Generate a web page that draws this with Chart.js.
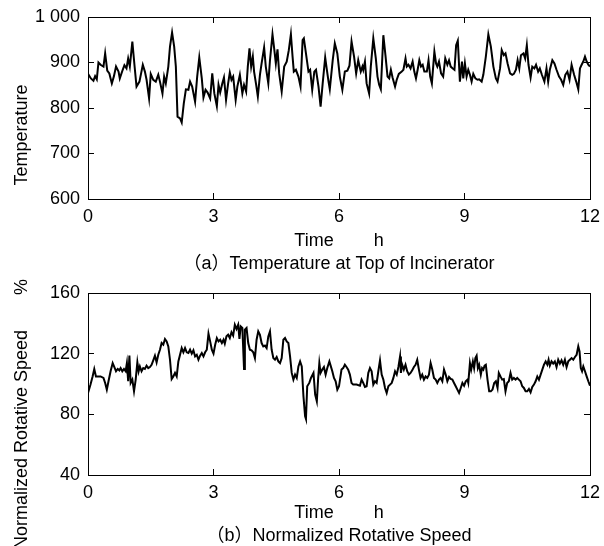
<!DOCTYPE html>
<html>
<head>
<meta charset="utf-8">
<title>Incinerator</title>
<script src="https://cdn.jsdelivr.net/npm/chart.js@4.4.1/dist/chart.umd.min.js"></script>
<style>
  body { margin: 0; width: 604px; height: 546px; background: #fff; position: relative; overflow: hidden;
         font-family: "Liberation Sans", Arial, "Noto Sans CJK SC", sans-serif; }
  .panel { position: absolute; left: 0; width: 604px; }
  #panelA { top: 0; height: 276px; }
  #panelB { top: 276px; height: 272px; }
  .ytitle { position: absolute; font-size: 18px; color: #000; white-space: pre; line-height: 1;
            transform: translate(-50%, -50%) rotate(-90deg); }
</style>
</head>
<body>
<div class="panel" id="panelA"><canvas id="tempChart" width="604" height="276"></canvas></div>
<div class="panel" id="panelB"><canvas id="speedChart" width="604" height="272"></canvas></div>
<div class="ytitle" style="left:21px; top:135px;">Temperature</div>
<div class="ytitle" style="left:21px; top:414px;">Normalized Rotative Speed       %</div>
<script>
// (a) temperature at top of incinerator
var tempTime = [
  0, 0.07, 0.13, 0.17, 0.21, 0.25, 0.30, 0.37, 0.41, 0.46,
  0.51, 0.57, 0.62, 0.67, 0.73, 0.76, 0.83, 0.87, 0.92, 0.96,
  1.00, 1.06, 1.11, 1.16, 1.23, 1.31, 1.36, 1.40, 1.46, 1.50,
  1.56, 1.62, 1.68, 1.72, 1.78, 1.82, 1.86, 1.92, 1.96, 2.01,
  2.06, 2.10, 2.14, 2.20, 2.24, 2.29, 2.34, 2.40, 2.44, 2.49,
  2.56, 2.61, 2.66, 2.72, 2.76, 2.81, 2.86, 2.92, 2.97, 3.02,
  3.08, 3.12, 3.16, 3.21, 3.25, 3.30, 3.35, 3.39, 3.43, 3.47,
  3.53, 3.57, 3.63, 3.69, 3.73, 3.78, 3.82, 3.86, 3.90, 3.94,
  3.97, 4.02, 4.06, 4.11, 4.15, 4.21, 4.25, 4.31, 4.35, 4.41,
  4.45, 4.49, 4.53, 4.57, 4.63, 4.69, 4.75, 4.80, 4.85, 4.89,
  4.92, 4.97, 5.03, 5.08, 5.13, 5.16, 5.21, 5.27, 5.31, 5.36,
  5.41, 5.45, 5.51, 5.56, 5.61, 5.67, 5.71, 5.75, 5.78, 5.85,
  5.90, 5.96, 6.02, 6.08, 6.14, 6.20, 6.25, 6.30, 6.36, 6.41,
  6.46, 6.52, 6.56, 6.58, 6.62, 6.66, 6.72, 6.76, 6.82, 6.88,
  6.92, 6.96, 7.00, 7.06, 7.11, 7.16, 7.20, 7.24, 7.28, 7.34,
  7.38, 7.43, 7.50, 7.54, 7.59, 7.62, 7.66, 7.71, 7.76, 7.80,
  7.84, 7.88, 7.92, 7.96, 8.00, 8.04, 8.10, 8.14, 8.18, 8.22,
  8.28, 8.32, 8.35, 8.39, 8.44, 8.49, 8.54, 8.59, 8.63, 8.67,
  8.72, 8.76, 8.80, 8.84, 8.89, 8.94, 8.97, 9.01, 9.05, 9.09,
  9.13, 9.17, 9.21, 9.26, 9.31, 9.35, 9.41, 9.45, 9.51, 9.57,
  9.63, 9.69, 9.75, 9.79, 9.85, 9.89, 9.94, 9.98, 10.03, 10.09,
  10.14, 10.18, 10.23, 10.27, 10.31, 10.35, 10.41, 10.45, 10.49, 10.53,
  10.58, 10.62, 10.67, 10.71, 10.76, 10.80, 10.85, 10.91, 10.96, 11.00,
  11.04, 11.10, 11.15, 11.20, 11.26, 11.31, 11.36, 11.41, 11.46, 11.51,
  11.56, 11.62, 11.67, 11.72, 11.76, 11.80, 11.84, 11.88, 11.92, 11.96,
  12.00
];
var tempValue = [
  875, 865, 860, 870, 863, 900, 895, 891, 920, 882,
  876, 854, 870, 891, 880, 865, 884, 894, 887, 909,
  891, 946, 895, 847, 858, 895, 880, 862, 821, 875,
  862, 858, 873, 858, 832, 869, 854, 891, 935, 966,
  935, 891, 781, 777, 768, 810, 841, 840, 858, 847,
  814, 869, 911, 865, 823, 840, 834, 821, 876, 832,
  804, 851, 834, 854, 867, 818, 854, 878, 862, 869,
  818, 847, 873, 832, 851, 836, 891, 931, 891, 913,
  880, 851, 825, 873, 898, 933, 891, 854, 905, 962,
  931, 898, 929, 876, 836, 891, 902, 927, 962, 913,
  880, 884, 869, 847, 949, 953, 920, 880, 884, 840,
  880, 884, 847, 803, 854, 911, 884, 858, 841, 905,
  942, 920, 869, 840, 880, 882, 893, 946, 913, 876,
  905, 880, 891, 884, 902, 854, 832, 891, 953, 909,
  869, 851, 841, 960, 916, 869, 865, 884, 867, 847,
  862, 875, 880, 884, 909, 891, 895, 887, 902, 880,
  865, 884, 905, 891, 895, 880, 880, 905, 869, 854,
  924, 898, 891, 902, 876, 869, 909, 895, 905, 891,
  887, 884, 938, 948, 858, 902, 865, 898, 869, 884,
  873, 858, 875, 865, 862, 863, 858, 873, 913, 962,
  935, 891, 865, 858, 887, 927, 916, 920, 898, 876,
  873, 875, 884, 905, 887, 916, 920, 909, 938, 895,
  867, 891, 887, 895, 880, 887, 873, 858, 887, 858,
  884, 905, 898, 884, 869, 862, 851, 873, 880, 862,
  895, 873, 858, 841, 887, 895, 902, 913, 902, 895,
  891
];

// (b) normalized rotative speed, %
var speedTime = [
  0, 0.06, 0.11, 0.15, 0.19, 0.25, 0.30, 0.37, 0.41, 0.45,
  0.49, 0.54, 0.59, 0.63, 0.67, 0.71, 0.75, 0.78, 0.82, 0.86,
  0.90, 0.93, 0.96, 0.99, 1.02, 1.06, 1.10, 1.14, 1.18, 1.21,
  1.24, 1.28, 1.32, 1.36, 1.40, 1.44, 1.48, 1.52, 1.56, 1.60,
  1.64, 1.68, 1.72, 1.76, 1.80, 1.84, 1.88, 1.92, 1.96, 2.00,
  2.04, 2.08, 2.12, 2.16, 2.20, 2.24, 2.28, 2.32, 2.36, 2.40,
  2.44, 2.48, 2.52, 2.56, 2.60, 2.64, 2.68, 2.72, 2.76, 2.80,
  2.84, 2.88, 2.92, 2.96, 3.00, 3.04, 3.08, 3.12, 3.16, 3.20,
  3.24, 3.27, 3.31, 3.35, 3.39, 3.43, 3.47, 3.51, 3.55, 3.59,
  3.62, 3.65, 3.69, 3.73, 3.75, 3.79, 3.83, 3.87, 3.91, 3.95,
  3.99, 4.03, 4.07, 4.11, 4.15, 4.19, 4.23, 4.27, 4.31, 4.35,
  4.39, 4.43, 4.47, 4.51, 4.55, 4.59, 4.63, 4.67, 4.71, 4.75,
  4.79, 4.83, 4.87, 4.91, 4.95, 4.99, 5.03, 5.07, 5.11, 5.15,
  5.19, 5.21, 5.24, 5.29, 5.33, 5.39, 5.43, 5.47, 5.50, 5.53,
  5.56, 5.60, 5.64, 5.68, 5.72, 5.77, 5.80, 5.84, 5.88, 5.92,
  5.96, 6.00, 6.06, 6.10, 6.14, 6.18, 6.22, 6.26, 6.30, 6.34,
  6.42, 6.50, 6.54, 6.58, 6.62, 6.66, 6.70, 6.74, 6.78, 6.82,
  6.86, 6.90, 6.94, 6.98, 7.02, 7.06, 7.10, 7.14, 7.18, 7.22,
  7.26, 7.30, 7.34, 7.38, 7.42, 7.46, 7.48, 7.51, 7.55, 7.59,
  7.63, 7.67, 7.71, 7.75, 7.79, 7.83, 7.87, 7.91, 7.95, 7.99,
  8.03, 8.07, 8.11, 8.15, 8.19, 8.23, 8.27, 8.31, 8.35, 8.39,
  8.43, 8.47, 8.51, 8.55, 8.59, 8.63, 8.67, 8.71, 8.75, 8.79,
  8.83, 8.87, 8.91, 8.95, 8.99, 9.03, 9.07, 9.09, 9.13, 9.16,
  9.20, 9.23, 9.26, 9.29, 9.32, 9.35, 9.39, 9.42, 9.45, 9.48,
  9.51, 9.55, 9.59, 9.63, 9.67, 9.71, 9.75, 9.79, 9.82, 9.86,
  9.90, 9.94, 9.98, 10.02, 10.06, 10.10, 10.14, 10.18, 10.22, 10.26,
  10.30, 10.34, 10.38, 10.42, 10.46, 10.50, 10.54, 10.58, 10.62, 10.66,
  10.70, 10.74, 10.78, 10.82, 10.86, 10.90, 10.94, 10.98, 11.01, 11.04,
  11.08, 11.12, 11.16, 11.20, 11.24, 11.28, 11.32, 11.36, 11.40, 11.44,
  11.48, 11.52, 11.56, 11.60, 11.64, 11.68, 11.72, 11.75, 11.78, 11.81,
  11.84, 11.88, 11.92, 11.96, 12.00
];
var speedValue = [
  94.1, 99.6, 105, 109.9, 105, 105, 105, 104, 100.7, 96.3,
  101.8, 108.4, 113.8, 111.2, 108.4, 109.9, 109, 110.5, 108.4, 109.9,
  108.4, 113.8, 101.8, 118.7, 100.7, 102.9, 95.2, 102.9, 114.3, 108.4,
  111.6, 108.4, 110.5, 109.9, 112.1, 110.5, 111.2, 112.7, 115.6, 118.7,
  114.3, 119.3, 122.6, 127, 125.9, 129.7, 128.1, 124.8, 116, 103.3,
  105, 107.3, 105, 114.9, 119.3, 123.7, 120.9, 123.7, 120.9, 120.4,
  122.6, 120, 122.2, 118.2, 119.3, 116, 118.7, 120.4, 118.2, 120.9,
  122.6, 133.2, 128.1, 122.6, 120, 125.9, 130.3, 128.1, 129.2, 127,
  129.2, 126.6, 131.4, 132.5, 130.3, 134.1, 131.9, 139.1, 136.3, 139.1,
  129.7, 138, 136.9, 109.9, 135.8, 136.9, 127, 122.6, 122.2, 120.9,
  117.1, 129.2, 134.7, 132.5, 127, 124.8, 125.3, 123.7, 131.4, 134.7,
  122.6, 117.1, 116, 117.8, 114.9, 113.8, 117.1, 129.2, 130.3, 128.1,
  127, 118.2, 107.3, 102.9, 106.2, 104, 111.6, 114.9, 111.6, 91.9,
  78.7, 77, 98.5, 100.7, 104, 107.3, 93, 88.6, 102.9, 113.8,
  107.3, 109.5, 111.2, 106.2, 110.5, 114.9, 112.1, 108.4, 104, 101.8,
  96.3, 98.5, 109.5, 110.5, 112.7, 111.2, 109.5, 106.2, 100.7, 99.6,
  99.6, 98.9, 102.9, 100.7, 98, 98.5, 107.3, 110.5, 108.4, 99.6,
  101.8, 100.7, 108.4, 115.6, 106.2, 102.9, 97.4, 94.1, 98.5, 99.6,
  100.7, 104, 108.4, 106.2, 111.2, 118.2, 107.3, 112.7, 109.5, 112.7,
  108.4, 106.2, 107.3, 109, 111.2, 112.7, 116, 109.5, 104, 106.2,
  102.9, 105, 104, 106.2, 113.8, 109.5, 104, 102.9, 100.7, 102.9,
  104, 101.8, 109.5, 106.2, 101.8, 104.6, 103.3, 102.9, 100.7, 98.5,
  96.3, 94.1, 97.4, 100.7, 98.9, 101.8, 102.9, 100.7, 113.8, 109.5,
  114.9, 110.5, 117.1, 118.7, 110.5, 112.7, 106.2, 110.5, 109.5, 112.1,
  112.7, 102.9, 95.2, 95.2, 96.3, 100.7, 101.8, 97.4, 107.3, 105,
  102.9, 103.3, 95.2, 100.7, 101.8, 107.3, 102.9, 104, 102.9, 104,
  102.9, 101.8, 98.5, 97.4, 95.2, 95.2, 96.7, 94.5, 98, 99.6,
  101.8, 105, 102.9, 106.2, 109.5, 112.7, 114.9, 112.7, 116, 112.1,
  114.9, 113.4, 114.9, 111.2, 116, 113.4, 115.6, 112.7, 116, 111.2,
  114.9, 116, 117.1, 116, 117.8, 119.3, 124.8, 121.5, 110.5, 108.4,
  111.6, 108.4, 105, 101.8, 98.9
];

var timeTicks = [0, 3, 6, 9, 12];
var tempTicks = [600, 700, 800, 900, 1000];
var speedTicks = [40, 80, 120, 160];

var FONT = '"Liberation Sans", Arial, "Noto Sans CJK SC", sans-serif';

// 1000 -> "1 000"
function spaced(v) {
    return String(v).replace(/\B(?=(\d{3})+(?!\d))/g, ' ');
}

// mirrored axis on top / right: tick marks only, no labels
function boxAxis(pos, ticks) {
    return {
        type: 'linear', position: pos,
        min: ticks[0], max: ticks[ticks.length - 1],
        ticks: { display: false, stepSize: ticks[1] - ticks[0] },
        grid: { drawOnChartArea: false, tickLength: -6, color: '#000' },
        border: { color: '#000', width: 1 },
        afterFit: function(s) {
            if (pos === 'top') s.height = 0; else s.width = 0;
        }
    };
}

function makeChart(id, times, values, yTicks, xAxisH, caption) {
    var pts = times.map(function(t, i) { return { x: t, y: values[i] }; });
    return new Chart(document.getElementById(id).getContext('2d'), {
        type: 'line',
        data: {
            datasets: [{
                data: pts,
                borderColor: '#000',
                borderWidth: 2,
                pointRadius: 0,
                tension: 0,
                fill: false
            }]
        },
        options: {
            responsive: false,
            animation: false,
            layout: { padding: { top: 17, right: 14, left: 0, bottom: 0 } },
            plugins: {
                legend: { display: false },
                tooltip: { enabled: false }
            },
            scales: {
                x: {
                    type: 'linear', position: 'bottom',
                    min: timeTicks[0], max: timeTicks[timeTicks.length - 1],
                    ticks: { stepSize: 3, color: '#000', padding: 13, maxRotation: 0,
                             font: { family: FONT, size: 18 } },
                    grid: { drawOnChartArea: false, tickLength: -6, color: '#000' },
                    border: { color: '#000', width: 1 },
                    // axis name, then the panel caption centred under the plot
                    title: { display: true, text: ['Time        h', caption], color: '#000', padding: 0,
                             font: { family: FONT, size: 18, lineHeight: 23 / 18 } },
                    afterFit: function(s) {
                        s.height = xAxisH;
                        s.paddingLeft = 0;
                        s.paddingRight = 0;
                    }
                },
                x2: boxAxis('top', timeTicks),
                y: {
                    type: 'linear', position: 'left',
                    min: yTicks[0], max: yTicks[yTicks.length - 1],
                    ticks: { stepSize: yTicks[1] - yTicks[0], color: '#000', padding: 14,
                             font: { family: FONT, size: 18 }, callback: spaced },
                    grid: { drawOnChartArea: false, tickLength: -6, color: '#000' },
                    border: { color: '#000', width: 1 },
                    afterFit: function(s) {
                        s.width = 88;
                        s.paddingTop = 0;
                        s.paddingBottom = 0;
                    }
                },
                y2: boxAxis('right', yTicks)
            }
        }
    });
}

makeChart('tempChart', tempTime, tempValue, tempTicks, 77,
          '（a）Temperature at Top of Incinerator');
makeChart('speedChart', speedTime, speedValue, speedTicks, 73,
          '（b）Normalized Rotative Speed');
</script>
</body>
</html>
